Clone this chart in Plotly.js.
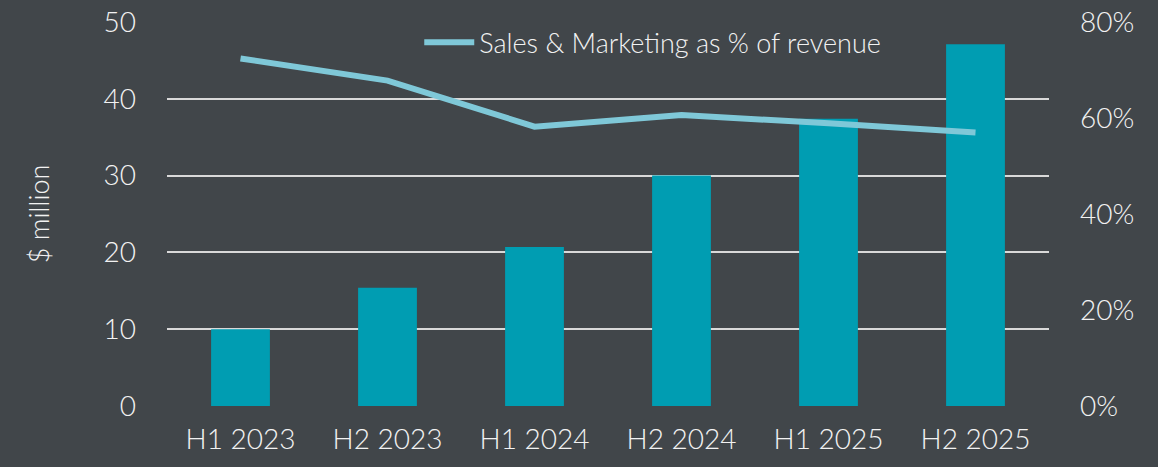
<!DOCTYPE html>
<html>
<head>
<meta charset="utf-8">
<script src="https://cdn.plot.ly/plotly-3.0.1.min.js"></script>
<style>html,body{margin:0;padding:0;background:#41464a;}#chart{width:1158px;height:467px;}</style>
</head>
<body>
<div id="chart"></div>
<script>
const categories = ["H1 2023", "H2 2023", "H1 2024", "H2 2024", "H1 2025", "H2 2025"];
const salesMarketing = [10.0, 15.4, 20.7, 30.0, 37.4, 47.1];
const pctOfRevenue = [0.724, 0.678, 0.582, 0.606, 0.589, 0.570];
const leftTicks = [0, 10, 20, 30, 40, 50];
const rightTicks = [0, 0.2, 0.4, 0.6, 0.8];

const FONT = "Lato, 'Open Sans', sans-serif";
const TXT = "#f2f2f2";

const traces = [
  {
    type: "bar", x: categories, y: salesMarketing, name: "Sales & Marketing",
    marker: {color: "#009db2"}, showlegend: false, hoverinfo: "skip"
  },
  {
    type: "scatter", mode: "lines", x: categories, y: pctOfRevenue, yaxis: "y2",
    name: "Sales & Marketing as % of revenue",
    line: {color: "#7fc8d8", width: 6}, hoverinfo: "skip"
  }
];

const layout = {
  width: 1158, height: 467,
  paper_bgcolor: "#41464a", plot_bgcolor: "#41464a",
  margin: {l: 167, r: 109, t: 22, b: 61},
  font: {family: FONT, color: TXT, size: 28, weight: 300},
  bargap: 0.6,
  showlegend: true,
  legend: {
    x: 0.286, y: 1.01, xanchor: "left", yanchor: "top",
    bgcolor: "rgba(0,0,0,0)", font: {size: 27, color: TXT, family: FONT, weight: 300},
    itemwidth: 50, tracegroupgap: 0
  },
  xaxis: {
    type: "category", showgrid: false, zeroline: false, showline: false,
    tickfont: {size: 28, color: TXT, family: FONT, weight: 300},
    ticklabelstandoff: 14
  },
  yaxis: {
    range: [0, 50], tickvals: leftTicks, ticktext: leftTicks.map(String),
    showgrid: true, gridcolor: "#d9d9d9", gridwidth: 2, zeroline: false, showline: false,
    tickfont: {size: 28, color: TXT, family: FONT, weight: 300},
    ticklabelstandoff: 30,
    title: {text: "$ million", font: {size: 27, color: TXT, family: FONT, weight: 300}, standoff: 46}
  },
  yaxis2: {
    overlaying: "y", side: "right", range: [0, 0.8], tickvals: rightTicks,
    ticktext: rightTicks.map(v => Math.round(v*100) + "%"),
    showgrid: false, zeroline: false, showline: false,
    tickfont: {size: 28, color: TXT, family: FONT, weight: 300},
    ticklabelstandoff: 30
  }
};

Plotly.newPlot("chart", traces, layout, {staticPlot: true, displayModeBar: false});
</script>
</body>
</html>
